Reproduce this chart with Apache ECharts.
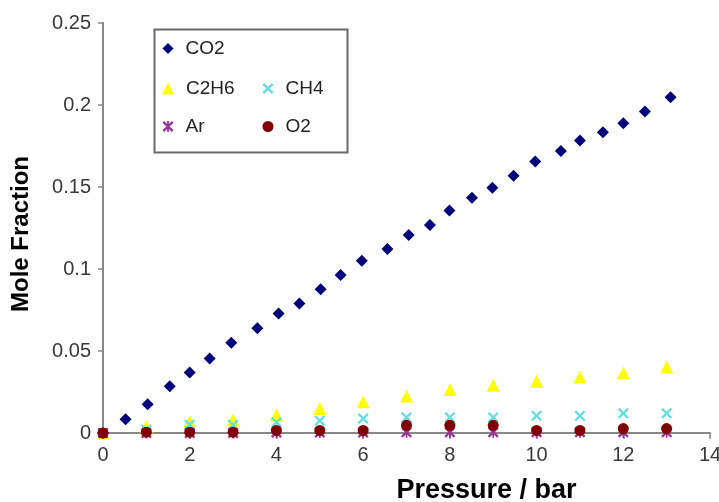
<!DOCTYPE html>
<html>
<head>
<meta charset="utf-8">
<script src="https://cdn.jsdelivr.net/npm/echarts@6/dist/echarts.min.js"></script>
<style>
html,body{margin:0;padding:0;background:#fff;}
#chart{width:719px;height:502px;}
</style>
</head>
<body>
<div id="chart"></div>
<script>
// ---- data ----
var co2X = [0, 0.52, 1.03, 1.54, 2.0, 2.46, 2.96, 3.56, 4.05, 4.53, 5.02, 5.48, 5.97, 6.56, 7.05, 7.54, 7.99, 8.51, 8.98, 9.47, 9.97, 10.56, 11.0, 11.53, 12.0, 12.5, 13.09];
var co2Y = [0, 0.0084, 0.0175, 0.0285, 0.0369, 0.0454, 0.055, 0.0638, 0.0729, 0.079, 0.0876, 0.0964, 0.105, 0.1122, 0.1207, 0.1268, 0.1356, 0.1435, 0.1496, 0.1569, 0.1655, 0.172, 0.1783, 0.1834, 0.1889, 0.196, 0.2048];
var gasX = [0, 1, 2, 3, 4, 5, 6, 7, 8, 9, 10, 11, 12, 13];
var c2h6Y = [0, 0.004, 0.007, 0.008, 0.011, 0.015, 0.019, 0.0226, 0.0265, 0.0291, 0.0316, 0.0342, 0.0366, 0.0403];
var ch4Y = [0, 0.002, 0.005, 0.005, 0.0065, 0.0075, 0.0088, 0.0095, 0.0095, 0.0095, 0.0105, 0.0105, 0.012, 0.012];
var arY = [0, 0, 0, 0, 0.0003, 0.0003, 0.0003, 0.0005, 0.0005, 0.0005, 0.0005, 0.0005, 0.0005, 0.0005];
var o2Y = [0, 0.0005, 0.0005, 0.0005, 0.0016, 0.0016, 0.0016, 0.0047, 0.0047, 0.0047, 0.0016, 0.0016, 0.0027, 0.0027];
var seriesNames = ['CO2', 'C2H6', 'CH4', 'Ar', 'O2'];
var yTickLabels = ['0', '0.05', '0.1', '0.15', '0.2', '0.25'];
var xTickLabels = ['0', '2', '4', '6', '8', '10', '12', '14'];
var xTitle = 'Pressure / bar';
var yTitle = 'Mole Fraction';

function pairs(xs, ys) { return xs.map(function (x, i) { return [x, ys[i]]; }); }

var xSym = 'path://M0,1.5L1.5,0L5,3.5L8.5,0L10,1.5L6.5,5L10,8.5L8.5,10L5,6.5L1.5,10L0,8.5L3.5,5Z';
var starSym = 'path://M0,1.5L1.5,0L5,3.5L8.5,0L10,1.5L6.5,5L10,8.5L8.5,10L5,6.5L1.5,10L0,8.5L3.5,5Z M4.2,0L5.8,0L5.8,10L4.2,10Z';

var colors = {CO2: '#00007a', C2H6: '#ffff00', CH4: '#66dde0', Ar: '#993399', O2: '#800000'};
var symbols = {CO2: 'diamond', C2H6: 'triangle', CH4: xSym, Ar: starSym, O2: 'circle'};
var sizes = {CO2: 12, C2H6: 13, CH4: 11, Ar: 11, O2: 11};
var legendSizes = {CO2: 11, C2H6: 12, CH4: 11, Ar: 11, O2: 11};
var dataMap = {
  CO2: pairs(co2X, co2Y),
  C2H6: pairs(gasX, c2h6Y),
  CH4: pairs(gasX, ch4Y),
  Ar: pairs(gasX, arY),
  O2: pairs(gasX, o2Y)
};

// icon centre positions of the legend entries
var legendCentre = {
  CO2: [168, 50], C2H6: [168, 90], CH4: [268, 90], Ar: [168, 128], O2: [268, 128]
};

var chart = echarts.init(document.getElementById('chart'), null, {renderer: 'canvas'});
var axisGray = '#878787';
var option = {
  animation: false,
  backgroundColor: '#ffffff',
  grid: {left: 103, right: 9, top: 23, bottom: 69, containLabel: false, outerBoundsMode: 'none'},
  xAxis: {
    type: 'value', min: 0, max: 14, interval: 2,
    name: xTitle, nameLocation: 'middle', nameGap: 44,
    nameTextStyle: {fontFamily: 'Liberation Sans, Arial', fontWeight: 'bold', fontSize: 27, color: '#000', padding: [0, 0, 0, 160]},
    axisLine: {show: true, lineStyle: {color: axisGray, width: 2}},
    axisTick: {show: true, length: 6, lineStyle: {color: axisGray, width: 1.5}},
    splitLine: {show: false},
    axisLabel: {
      margin: 12, fontFamily: 'Liberation Sans, Arial', fontSize: 20, color: '#383838',
      formatter: function (v) { return xTickLabels[Math.round(v / 2)]; }
    }
  },
  yAxis: {
    type: 'value', min: 0, max: 0.25, interval: 0.05,
    name: yTitle, nameLocation: 'middle', nameGap: 70, nameRotate: 90,
    nameTextStyle: {fontFamily: 'Liberation Sans, Arial', fontWeight: 'bold', fontSize: 24, color: '#000', padding: [0, 12, 0, 0]},
    axisLine: {show: true, lineStyle: {color: axisGray, width: 2}},
    axisTick: {show: true, length: 5, lineStyle: {color: axisGray, width: 1.5}},
    splitLine: {show: false},
    axisLabel: {
      margin: 12, fontFamily: 'Liberation Sans, Arial', fontSize: 20, color: '#383838',
      formatter: function (v) { return yTickLabels[Math.round(v / 0.05)]; }
    }
  },
  legend: seriesNames.map(function (n) {
    var s = legendSizes[n];
    return {
      data: [n], left: legendCentre[n][0] - s / 2, top: legendCentre[n][1] - 11, padding: 0,
      itemWidth: s, itemHeight: s, itemGap: 0,
      selectedMode: false,
      textStyle: {fontFamily: 'Liberation Sans, Arial', fontSize: 19, color: '#222', padding: [0, 0, 0, 7]}
    };
  }),
  graphic: [{
    type: 'rect', left: 152, top: 27, z: 0,
    shape: {width: 193, height: 123},
    style: {fill: 'none', stroke: '#6a6a6a', lineWidth: 2}
  }],
  series: seriesNames.map(function (n) {
    return {
      name: n, type: 'scatter', data: dataMap[n],
      symbol: symbols[n], symbolSize: sizes[n], symbolKeepAspect: true,
      itemStyle: {color: colors[n], opacity: 1},
      emphasis: {disabled: true}
    };
  })
};
chart.setOption(option);
</script>
</body>
</html>
